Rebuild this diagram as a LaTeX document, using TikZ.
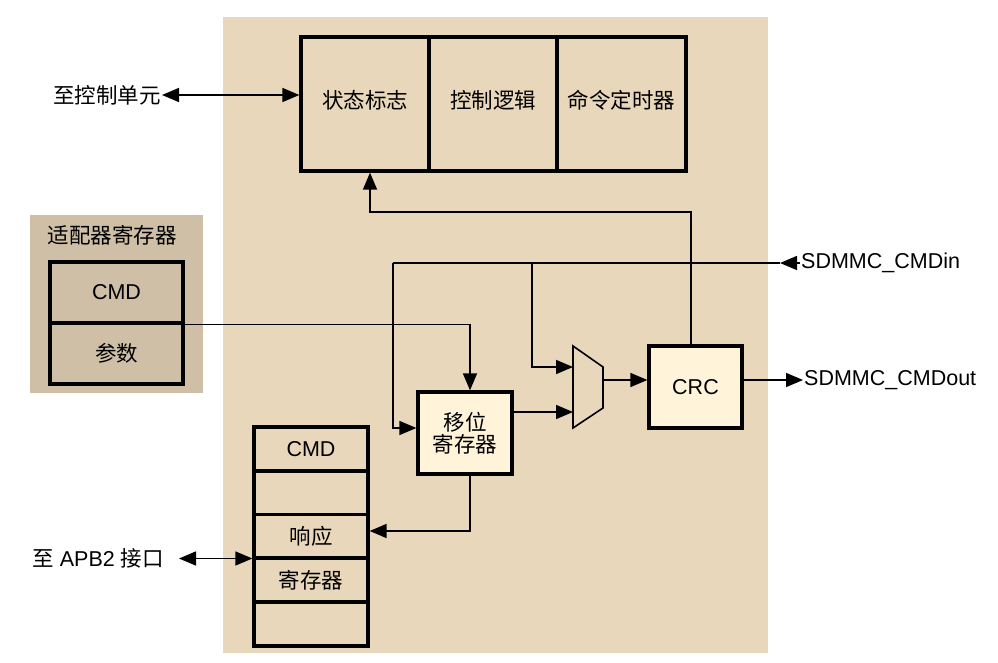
\documentclass[tikz,border=0pt]{standalone}
\usepackage{fontspec}
\setmainfont{Liberation Sans}
\newfontfamily\cjk{Noto Sans CJK SC}
\usetikzlibrary{arrows.meta,calc}
\definecolor{beige}{HTML}{E8D7BA}
\definecolor{graybg}{HTML}{CFBFA6}
\definecolor{cream}{HTML}{FFF4DA}
\tikzset{
  txt/.style={font=\fontsize{21.5}{25}\selectfont, inner sep=1pt},
  thickbox/.style={draw=black, line width=3.3pt, inner sep=0pt, txt, align=center},
  topbox/.style={thickbox, fill=beige, minimum width=128pt, minimum height=134pt},
  adbox/.style={thickbox, fill=graybg, minimum width=133pt, minimum height=61pt},
  rowbox/.style={thickbox, fill=beige, minimum width=114pt, minimum height=44pt},
  logicbox/.style={thickbox, fill=cream},
  wire/.style={line width=1.6pt, draw=black},
  arr/.style={wire, -{Triangle[length=17pt,width=14pt]}},
  dblarr/.style={wire, {Triangle[length=17pt,width=14pt]}-{Triangle[length=17pt,width=14pt]}}
}
\begin{document}
\begin{tikzpicture}[x=1pt,y=-1pt]
\useasboundingbox (0,0) rectangle (998,663);
% backgrounds
\fill[beige] (223,17) rectangle (768,653);
\fill[graybg] (30,215) rectangle (203,393);
% top boxes
\node[topbox, text depth=10pt] (st) at (365,104) {\cjk 状态标志};
\node[topbox, text depth=10pt] (cl) at (493,104) {\cjk 控制逻辑};
\node[topbox, text depth=10pt, minimum width=129pt] (ct) at (621.5,104) {\cjk 命令定时器};
% left labels
\node[txt, anchor=east] (ctrl) at (162,95) {\cjk 至控制单元};
\node[txt] (adtitle) at (112,235) {\cjk 适配器寄存器};
\node[adbox] (acmd) at (116.5,292.5) {CMD};
\node[adbox] (apar) at (116.5,353.5) {\cjk 参数};
% bottom register stack
\node[rowbox] (r1) at (311,449) {CMD};
\node[rowbox] (r2) at (311,493) {};
\node[rowbox] (r3) at (311,536.5) {\cjk 响应};
\node[rowbox] (r4) at (311,580) {\cjk 寄存器};
\node[rowbox] (r5) at (311,624) {};
\node[txt, anchor=east] (apb) at (165,558.5) {{\cjk 至} APB2 {\cjk 接口}};
% shift register and CRC
\node[logicbox, minimum width=94pt, minimum height=82pt] (sr) at (465,433) {\cjk 移位\\[-3pt]\cjk 寄存器};
\node[logicbox, minimum width=93pt, minimum height=82pt] (crc) at (695.5,387) {CRC};
% mux
\draw[wire, fill=beige] (573,346) -- (603,367) -- (603,408) -- (573,428) -- cycle;
\coordinate (mi1) at (573,367);
\coordinate (mi2) at (573,412);
\coordinate (mo) at (603,380);
% external labels
\node[txt, anchor=west] (cmdin) at (800,263) {SDMMC\_CMDin};
\node[txt, anchor=west] (cmdout) at (803,380) {SDMMC\_CMDout};
% connectors
\draw[dblarr] (ctrl.east) -- (ctrl.east -| st.west);
\draw[arr] (crc.north -| 691,0) -- (691,212) -| ([xshift=5pt]st.south);
\coordinate (tip) at (780,263);
\coordinate (j1) at (393,263);
\coordinate (j2) at (532,263);
\draw[arr] (cmdin.west) -- (tip);
\draw[wire] (tip) -- (j1);
\draw[arr] (j1) |- (sr.west |- 0,428);
\draw[arr] (j2) |- (mi1);
\draw[arr] (sr.east |- mi2) -- (mi2);
\draw[arr] (mo) -- (mo -| crc.west);
\draw[arr] (crc.east |- mo) -- (cmdout.west);
\draw[arr] (acmd.south east) -| ([xshift=5pt]sr.north);
\draw[arr] ([xshift=5pt]sr.south) |- (r3.east |- 0,531);
\draw[dblarr] ([xshift=14pt]apb.east) -- (apb.east -| r3.west);
\end{tikzpicture}
\end{document}
